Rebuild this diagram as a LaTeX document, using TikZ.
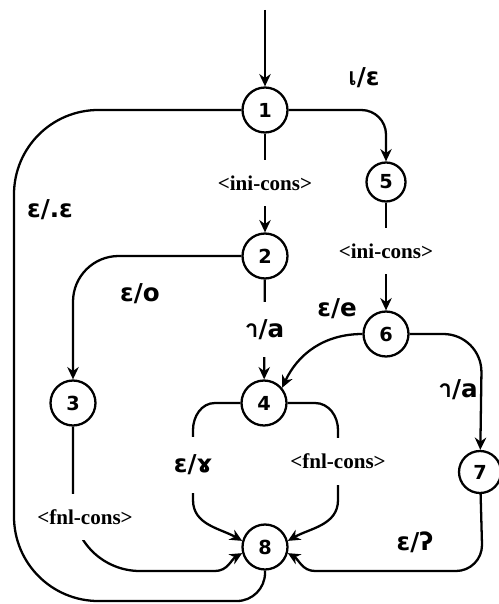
\documentclass[tikz,border=0pt]{standalone}
\usepackage{fontspec}
\setmainfont{DejaVu Sans}
\newfontfamily\consfont{Liberation Serif}
\newfontfamily\thaifont[Script=Thai]{Loma}
\usetikzlibrary{arrows.meta,positioning}

\begin{document}
\begin{tikzpicture}[
    x=0.02cm, y=-0.02cm,
    statenode/.style={draw, circle, line width=1.3pt, minimum size=0.9cm, inner sep=0pt, font=\fontsize{11}{13}\selectfont\bfseries},
    arrow/.style={line width=1.3pt,->,>={Stealth[length=7pt,width=6.5pt]}},
    line/.style={line width=1.3pt},
    cons/.style={fill=white, font=\consfont\fontsize{12}{14}\selectfont\bfseries, inner xsep=1pt, inner ysep=9pt},
    io/.style={font=\fontsize{14}{16}\selectfont\bfseries, inner sep=1pt}
]
    \useasboundingbox (0,0) rectangle (499,604);

    \node (s1) [statenode] at (265,110) {1};
    \node (s2) [statenode] at (265,256) {2};
    \node (s3) [statenode] at (73,403) {3};
    \node (s4) [statenode] at (264,403) {4};
    \node (s5) [statenode, minimum size=0.78cm] at (386,182) {5};
    \node (s6) [statenode] at (386,334) {6};
    \node (s7) [statenode, minimum size=0.84cm] at (480,472) {7};
    \node (s8) [statenode] at (265,547) {8};
    \coordinate (start) at (265,10);

    \draw [arrow] (start) -- (s1);
    \draw [arrow, rounded corners=14pt] (s1) -- (386,110) -- (s5);
    \draw [arrow] (s1) -- node[cons] {<ini-cons>} (s2);
    \draw [arrow] (s5) -- node[cons, pos=0.45] {<ini-cons>} (s6);
    \draw [arrow, rounded corners=26pt] (s2) -- (73,256) -- (s3);
    \draw [arrow] (s2) -- node[io, fill=white, inner ysep=10pt] {{\thaifont า}/a} (s4);
    \draw [arrow] (s6.west) to[out=180, in=65] (s4.40);
    \draw [arrow, rounded corners=22pt] (s6) -- (482,334) -- (s7);
    \draw [arrow] (s4.west) -- (215,403) to[out=180, in=90] (193,430) -- node[io, fill=white, inner ysep=10pt, pos=0.5] {ɛ/ɤ} (193,500) to[out=-90, in=150] (s8.165);
    \draw [arrow] (s4.east) -- (315,403) to[out=0, in=90] (338,430) -- node[cons, pos=0.45] {<fnl-cons>} (338,500) to[out=-90, in=30] (s8.15);
    \draw [arrow] (s3) -- (73,505) to[out=-90, in=180] (140,571) -- (215,571) to[out=0, in=210] (s8.195);
    \draw [arrow] (s7) -- (482,545) to[out=-90, in=0] (456,571) -- (315,571) to[out=180, in=-30] (s8.345);
    \draw [line] (s1) [rounded corners=48pt] -- (14,110) -- (14,601) [rounded corners=16pt] -- (265,601) -- (s8);

    \node (c38) [cons] at (85,517) {<fnl-cons>};
    \node (l15) [io] at (364,78) {{\thaifont เ}/ɛ};
    \node (l18) [io] at (50,210) {ɛ/.ɛ};
    \node (l23) [io] at (140,294) {ɛ/o};
    \node (l64) [io] at (337,309) {ɛ/e};
    \node (l67) [io] at (458,390) {{\thaifont า}/a};
    \node (l78) [io] at (415,542) {ɛ/ʔ};
\end{tikzpicture}
\end{document}
